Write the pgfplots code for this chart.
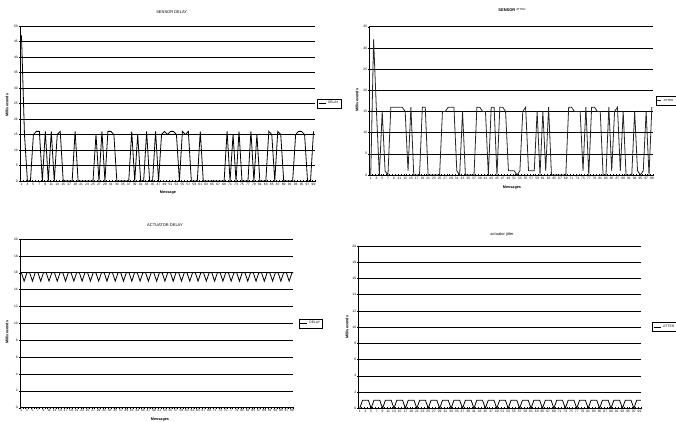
\documentclass[border=0pt]{standalone}
\usepackage{fontspec}
\setmainfont{Liberation Sans}
\usepackage{pgfplots}
\usepackage{pgfplotstable}
\pgfplotsset{compat=1.18}

\pgfplotstableread[row sep=\\]{v\\47\\15\\0\\0\\15\\16\\16\\0\\16\\0\\16\\0\\15\\16\\0\\0\\0\\0\\16\\0\\0\\0\\0\\0\\0\\15\\0\\16\\0\\16\\16\\15\\0\\0\\0\\0\\0\\16\\0\\15\\0\\0\\16\\0\\0\\16\\0\\15\\16\\15\\16\\16\\15\\0\\16\\15\\16\\0\\0\\0\\16\\0\\0\\0\\0\\0\\0\\0\\0\\16\\0\\15\\0\\16\\0\\0\\0\\16\\0\\15\\0\\0\\0\\16\\15\\0\\16\\15\\0\\0\\0\\0\\15\\16\\16\\15\\0\\0\\16\\}\sensordelay

\pgfplotstableread[row sep=\\]{v\\0\\32\\15\\0\\15\\1\\0\\16\\16\\16\\16\\16\\15\\1\\16\\0\\0\\0\\16\\16\\0\\0\\0\\0\\0\\15\\15\\16\\16\\16\\1\\0\\15\\0\\0\\0\\0\\16\\16\\15\\15\\0\\16\\16\\0\\16\\16\\15\\1\\1\\1\\0\\1\\15\\16\\1\\1\\1\\15\\0\\15\\1\\16\\0\\0\\0\\0\\0\\0\\16\\16\\15\\15\\15\\1\\16\\0\\16\\16\\15\\15\\0\\0\\16\\1\\15\\16\\1\\15\\0\\0\\0\\15\\1\\0\\1\\15\\0\\16\\}\sensorjitter

\pgfplotstableread[row sep=\\]{v\\16\\15\\16\\16\\15\\16\\16\\15\\16\\16\\15\\16\\16\\15\\16\\16\\15\\16\\16\\15\\16\\16\\15\\16\\16\\15\\16\\16\\15\\16\\16\\15\\16\\16\\15\\16\\16\\15\\16\\16\\15\\16\\16\\15\\16\\16\\15\\16\\16\\15\\16\\16\\15\\16\\16\\15\\16\\16\\15\\16\\16\\15\\16\\16\\15\\16\\16\\15\\16\\16\\15\\16\\16\\15\\16\\16\\15\\16\\16\\15\\16\\16\\15\\16\\16\\15\\16\\16\\15\\16\\16\\15\\16\\16\\15\\16\\16\\15\\16\\16\\15\\16\\}\actuatordelay

\pgfplotstableread[row sep=\\]{v\\0\\1\\1\\1\\0\\1\\1\\1\\0\\1\\1\\1\\0\\1\\1\\1\\0\\1\\1\\1\\0\\1\\1\\1\\0\\1\\1\\1\\0\\1\\1\\1\\0\\1\\1\\1\\0\\1\\1\\1\\0\\1\\1\\1\\0\\1\\1\\1\\0\\1\\1\\1\\0\\1\\1\\1\\0\\1\\1\\1\\0\\1\\1\\1\\0\\1\\1\\1\\0\\1\\1\\1\\0\\1\\1\\1\\0\\1\\1\\1\\0\\1\\1\\1\\0\\1\\1\\1\\0\\1\\1\\1\\0\\1\\1\\1\\0\\1\\1\\1\\0\\1\\1\\}\actuatorjitter

\pgfplotsset{excel/.style={
  scale only axis, anchor=south west,
  axis x line*=bottom, axis y line*=left,
  xmin=0.5, xmax=99.5, ymin=0,
  xtick={1,3,...,99},
  minor xtick={0.5,1.5,...,99.5},
  major x tick style={draw=none},
  tick align=center,
  major tick length=2pt, minor tick length=2pt,
  tick style={black, line width=0.4pt},
  ymajorgrids, grid style={black, line width=0.6pt},
  axis line style={black, line width=0.6pt},
  tick label style={font=\fontsize{3.3}{4}\selectfont},
  /pgf/number format/assume math mode=true,
  xticklabel style={inner sep=0.6pt},
  yticklabel style={inner sep=1pt},
  legend style={anchor=west, font=\fontsize{3.3}{4}\selectfont, draw=black, line width=0.5pt, inner sep=0.6pt, legend cell align=left},
  legend image code/.code={\draw[#1] (0pt,0pt) -- (7pt,0pt);},
}}

\begin{document}
\begin{tikzpicture}[x=1pt,y=1pt]
\useasboundingbox (0,0) rectangle (676,421);

% Sensor delay
\begin{axis}[excel, at={(20pt,240pt)}, width=295pt, height=155pt,
  ymax=50, ytick={0,5,...,50},
  legend style={at={(1.008,0.5)}}]
\addplot[black, line width=0.8pt] table[x expr=\coordindex+1, y=v] {\sensordelay};
\addlegendentry{DELAY}
\end{axis}

% Sensor jitter
\begin{axis}[excel, at={(369.3pt,246pt)}, width=284pt, height=148.3pt,
  ymax=35, ytick={0,5,...,35},
  legend style={at={(1.008,0.5)}, font=\fontsize{2.9}{3.5}\selectfont, inner sep=0.4pt},
  legend image code/.code={\draw[#1] (0pt,0pt) -- (4.5pt,0pt);}]
\addplot[black!85, line width=0.8pt] table[x expr=\coordindex+1, y=v] {\sensorjitter};
\addlegendentry{JITTER}
\end{axis}

% Actuator delay
\begin{axis}[excel, at={(20pt,13.3pt)}, width=273.3pt, height=168.7pt,
  ymax=20, ytick={0,2,...,20},
  legend style={at={(1.02,0.5)}}]
\addplot[black, line width=0.8pt] table[x expr=\coordindex+1, y=v] {\actuatordelay};
\addlegendentry{DELAY}
\end{axis}

% Actuator jitter
\begin{axis}[excel, at={(358.3pt,12.7pt)}, width=282.7pt, height=162.3pt,
  ymax=20, ytick={0,2,...,20},
  legend style={at={(1.04,0.5)}}]
\addplot[black, line width=0.8pt] table[x expr=\coordindex+1, y=v] {\actuatorjitter};
\addlegendentry{JITTER}
\end{axis}

% titles and labels
\node[font=\fontsize{4}{5}\selectfont] at (171.7,409) {SENSOR DELAY};
\node[font=\fontsize{4}{5}\selectfont] at (512,411) {\textbf{SENSOR}\,\raisebox{0.8pt}{\fontsize{2.8}{3}\selectfont JITTER}};
\node[font=\fontsize{4}{5}\selectfont] at (165,196) {ACTUATOR DELAY};
\node[font=\fontsize{4}{5}\selectfont] at (502,187) {actuator jitter};

\node[rotate=90, font=\fontsize{3.8}{4}\selectfont\bfseries] at (7,316) {Milliseconds};
\node[rotate=90, font=\fontsize{3.8}{4}\selectfont\bfseries] at (357,321) {Milliseconds};
\node[rotate=90, font=\fontsize{3.8}{4}\selectfont\bfseries] at (7,89) {Milliseconds};
\node[rotate=90, font=\fontsize{3.8}{4}\selectfont\bfseries] at (347,94) {Milliseconds};

\node[font=\fontsize{3.8}{4}\selectfont\bfseries] at (168,228) {Message};
\node[font=\fontsize{3.8}{4}\selectfont\bfseries] at (512,233) {Messages};
\node[font=\fontsize{3.8}{4}\selectfont\bfseries] at (160,1) {Messages};
\end{tikzpicture}
\end{document}
